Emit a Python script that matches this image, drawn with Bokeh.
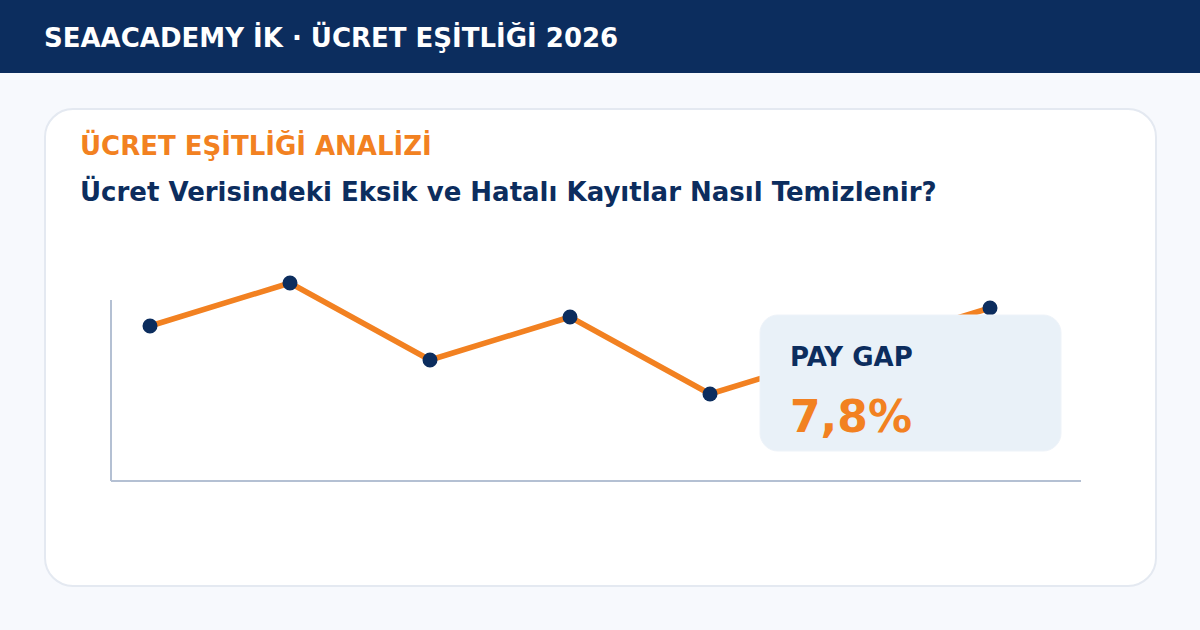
from bokeh.core.properties import value
from bokeh.embed import file_html
from bokeh.models import BoxAnnotation, Range1d
from bokeh.plotting import figure
from bokeh.resources import INLINE

# values (sixth point sits behind the card)
periods = [0, 1, 2, 3, 4, 5, 6]
values = [154, 197, 120, 163, 86, 129, 172]

header_text = "SEAACADEMY İK · ÜCRET EŞİTLİĞİ 2026"
kicker_text = "ÜCRET EŞİTLİĞİ ANALİZİ"
title_text = "Ücret Verisindeki Eksik ve Hatalı Kayıtlar Nasıl Temizlenir?"
card_label = "PAY GAP"
card_value = "7,8%"

NAVY = "#0c2d5e"
ORANGE = "#f28121"
AXIS = "#b4c0d3"
FONT = "DejaVu Sans"

# main ranges are page pixels, the chart has its own ranges
p = figure(width=1201, height=631, output_backend="svg", toolbar_location=None,
           x_range=Range1d(-0.5, 1200.5), y_range=Range1d(630.5, -0.5),
           min_border=0, x_axis_type=None, y_axis_type=None, outline_line_color=None)
p.margin = (-1, 0, 0, -1)
p.grid.visible = False
p.background_fill_color = "#f7f9fd"
p.border_fill_color = "#f7f9fd"

p.extra_x_ranges["chart"] = Range1d(-150.5 / 140, 1050.5 / 140)
p.extra_y_ranges["chart"] = Range1d(-150.5, 480.5)

p.add_layout(BoxAnnotation(left=-0.5, right=1200.5, top=-0.5, bottom=73, fill_color=NAVY,
                           fill_alpha=1, line_color=None, level="underlay"))
p.add_layout(BoxAnnotation(left=45, right=1156, top=109, bottom=586, fill_color="#ffffff",
                           fill_alpha=1, line_color="#e4e9f1", line_alpha=1, line_width=2,
                           border_radius=28, level="underlay"))

# axis lines
p.segment([111, 111], [300, 481], [111, 1081], [481, 481], line_color=AXIS, line_width=2)

p.line(periods, values, x_range_name="chart", y_range_name="chart",
       line_color=ORANGE, line_width=5.5)
p.scatter(periods, values, x_range_name="chart", y_range_name="chart",
          size=15, fill_color=NAVY, line_color=NAVY, line_width=0)

p.add_layout(BoxAnnotation(left=760, right=1061, top=315, bottom=451, fill_color="#e9f1f8",
                           fill_alpha=1, line_color="#eef3f9", line_alpha=1, line_width=1,
                           border_radius=18))


def add_text(x, y, text, size, color):
    p.text([x], [y], text=[text], text_font=value(FONT), text_font_size=size,
           text_font_style="bold", text_color=color, text_baseline="alphabetic", level="overlay")


add_text(44, 38, header_text, "26px", "#ffffff")
add_text(80, 146, kicker_text, "26px", ORANGE)
add_text(80, 192, title_text, "26px", NAVY)
add_text(790, 357, card_label, "26px", NAVY)
add_text(790, 416, card_value, "44px", ORANGE)

open("out.html", "w").write(file_html(p, INLINE))
